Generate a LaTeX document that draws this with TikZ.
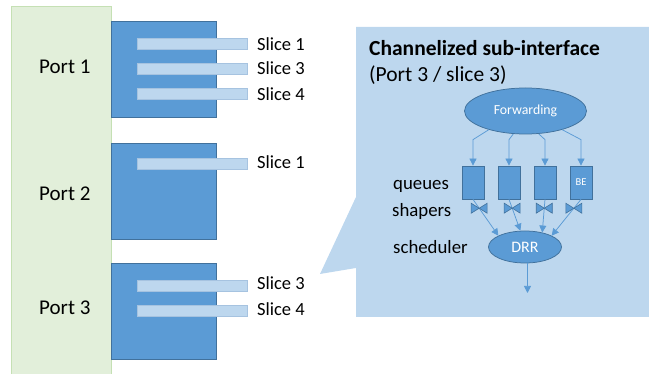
\documentclass[tikz,border=0pt]{standalone}
\usepackage{fontspec}
\setmainfont{Carlito}
\usetikzlibrary{arrows.meta,shapes.geometric}
\definecolor{portblue}{HTML}{5B9BD5}
\definecolor{portedge}{HTML}{41719C}
\definecolor{lightblue}{HTML}{BDD7EE}
\definecolor{baredge}{HTML}{A6C3E0}
\definecolor{greenfill}{HTML}{E2EFDA}
\definecolor{greenedge}{HTML}{C5E0B4}
\definecolor{arrowblue}{HTML}{5B9BD5}
\begin{document}
\begin{tikzpicture}[x=1pt,y=-1pt,
  greenstrip/.style={draw=greenedge,fill=greenfill,line width=0.75pt,minimum width=100pt,minimum height=380pt,inner sep=0,anchor=north west},
  portbox/.style={draw=portedge,fill=portblue,line width=0.75pt,minimum width=105pt,minimum height=96pt,inner sep=0,anchor=north west},
  slicebar/.style={draw=baredge,fill=lightblue,line width=0.5pt,minimum width=110pt,minimum height=11pt,inner sep=0,anchor=west},
  slicelbl/.style={font=\fontsize{18.5}{21}\selectfont,inner sep=0,anchor=base west},
  portlbl/.style={font=\fontsize{21}{24}\selectfont,inner sep=0,anchor=base west},
  titlelbl/.style={font=\fontsize{21.5}{25}\selectfont,inner sep=0,anchor=base west},
  sidelbl/.style={font=\fontsize{18.8}{22}\selectfont,inner sep=0,anchor=base west},
  blueell/.style={ellipse,draw=portedge,fill=portblue,line width=0.75pt,inner sep=0,text=white},
  queuebox/.style={draw=portedge,fill=portblue,line width=0.75pt,minimum width=22pt,minimum height=33pt,inner sep=0,text=white,font=\fontsize{10.5}{12}\selectfont},
  arr/.style={draw=arrowblue,line width=0.75pt,-{Triangle[width=7pt,length=7pt]}},
  bowtie/.pic={\draw[draw=portedge,fill=portblue,line width=0.6pt,line join=miter]
     (-8pt,-5pt) -- (0pt,0pt) -- (-8pt,5pt) -- cycle
     (8pt,-5pt) -- (0pt,0pt) -- (8pt,5pt) -- cycle;}
]
\path[use as bounding box] (0,0) rectangle (649,374);
\clip (0,0) rectangle (649,374);

% left side
\node[greenstrip] (strip) at (11,6) {};
\node[portbox] (p1) at (111,21) {};
\node[portbox] (p2) at (111,143) {};
\node[portbox] (p3) at (111,263) {};

\node[slicebar] (b11) at (137,43.5) {};
\node[slicebar] (b13) at (137,68.5) {};
\node[slicebar] (b14) at (137,94) {};
\node[slicebar] (b21) at (137,164) {};
\node[slicebar] (b33) at (137,285.5) {};
\node[slicebar] (b34) at (137,311) {};

\node[slicelbl] (l11) at (257,50.7) {Slice 1};
\node[slicelbl] (l13) at (257,75) {Slice 3};
\node[slicelbl] (l14) at (257,100.5) {Slice 4};
\node[slicelbl] (l21) at (257,168.5) {Slice 1};
\node[slicelbl] (l33) at (257,290) {Slice 3};
\node[slicelbl] (l34) at (257,316) {Slice 4};

\node[portlbl] (t1) at (39,74) {Port 1};
\node[portlbl] (t2) at (39,200.5) {Port 2};
\node[portlbl] (t3) at (39,315) {Port 3};

% callout
\fill[lightblue] (356,27) -- (649,27) -- (649,317) -- (356,317) -- (356,268) -- (320,274) -- (356,197) -- cycle;

\node[titlelbl] (title) at (369,56) {\bfseries Channelized sub-interface};
\node[titlelbl] (subtitle) at (369,82) {(Port 3 / slice 3)};

\node[blueell,minimum width=122pt,minimum height=46pt,font=\fontsize{13.8}{15}\selectfont] (fw) at (525.5,111) {Forwarding};

\node[queuebox] (q1) at (473,182.5) {};
\node[queuebox] (q2) at (509,182.5) {};
\node[queuebox] (q3) at (545,182.5) {};
\node[queuebox] (q4) at (581,182.5) {BE};

\node[blueell,minimum width=73pt,minimum height=32pt,font=\fontsize{16}{18}\selectfont] (drr) at (525,247) {DRR};

\node[sidelbl] (lq) at (393,189.5) {queues};
\node[sidelbl] (ls) at (392,217) {shapers};
\node[sidelbl] (lsch) at (393,253.3) {scheduler};

\draw[arr] (fw.207) -- ([yshift=26pt]q1.north) -- (q1.north);
\draw[arr] (fw.242) -- ([yshift=26pt]q2.north) -- (q2.north);
\draw[arr] (fw.300) -- ([yshift=26pt]q3.north) -- (q3.north);
\draw[arr] (fw.333) -- ([yshift=26pt]q4.north) -- (q4.north);

\draw[arr] (q1.south) -- coordinate[pos=0.244] (s1) (drr.157);
\draw[arr] (q2.south) -- coordinate[pos=0.28] (s2) (drr.106);
\draw[arr] (q3.south) -- coordinate[pos=0.266] (s3) (drr.40);
\draw[arr] (q4.south) -- coordinate[pos=0.244] (s4) (drr.23);

\pic at (s1) {bowtie};
\pic at (s2) {bowtie};
\pic at (s3) {bowtie};
\pic at (s4) {bowtie};

\coordinate (out) at (527.5,293);
\draw[arr] (drr.south -| out) -- (out);
\end{tikzpicture}
\end{document}
